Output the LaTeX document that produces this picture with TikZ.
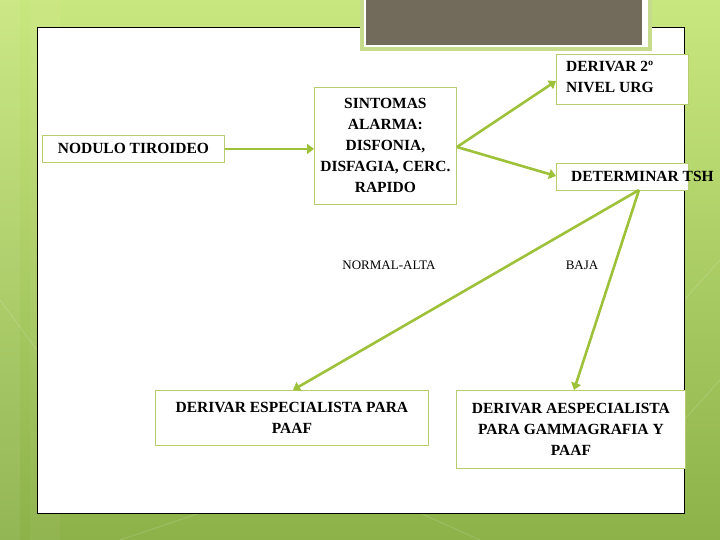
\documentclass[tikz,border=0pt]{standalone}
\usepackage{fontspec}
\setmainfont{Liberation Serif}
\usetikzlibrary{arrows.meta,positioning}
\definecolor{bgtop}{HTML}{C9E77F}
\definecolor{bgbot}{HTML}{8DB24A}
\definecolor{boxline}{HTML}{B7CC6E}
\definecolor{arr}{HTML}{9DC23A}
\definecolor{titlefill}{HTML}{726A5A}
\definecolor{titleedge}{HTML}{C6DC8C}
\tikzset{
  bigfont/.style={font=\bfseries\fontsize{15.5}{21}\selectfont},
  flowbox/.style={draw=boxline, line width=0.8pt, fill=white, bigfont, inner sep=0pt},
  flowarrow/.style={draw=arr, line width=2.6pt, -{Triangle[width=10pt,length=7pt]}},
  lbl/.style={font=\fontsize{13}{15}\selectfont, inner sep=0pt}
}
\begin{document}
\begin{tikzpicture}[x=1pt,y=-1pt]
\useasboundingbox (0,0) rectangle (720,540);
% background
\shade[top color=bgtop, bottom color=bgbot] (0,0) rectangle (720,540);
\fill[white, opacity=0.06] (0,0) rectangle (20,540);
\fill[white, opacity=0.04] (30,0) rectangle (60,540);
\draw[white, opacity=0.15, line width=0.8pt] (0,300) -- (37,350);
\draw[white, opacity=0.15, line width=0.8pt] (684,300) -- (720,260);
\draw[white, opacity=0.15, line width=0.8pt] (684,420) -- (720,380);
\draw[white, opacity=0.15, line width=0.8pt] (120,540) -- (200,513);
\draw[white, opacity=0.15, line width=0.8pt] (420,513) -- (480,540);
% white panel
\node[draw=black, line width=0.8pt, fill=white, inner sep=0pt, minimum width=647pt, minimum height=486pt, anchor=north west] (panel) at (37,27) {};
% title box
\node[draw=titleedge, line width=4pt, fill=white, inner sep=0pt, minimum width=288pt, minimum height=56pt, anchor=south west] (titleout) at (360,51) {};
\node[fill=titlefill, inner sep=0pt, minimum width=276pt, minimum height=46pt, anchor=south west] (titlein) at (366,45) {};
% nodes
\node[flowbox, minimum width=182pt, minimum height=27pt, anchor=north west] (nod) at (42,135) {NODULO TIROIDEO};
\node[flowbox, minimum width=142pt, minimum height=117pt, anchor=north west, align=center] (sint) at (314,87) {SINTOMAS\\ALARMA:\\DISFONIA,\\DISFAGIA, CERC.\\RAPIDO};
\node[flowbox, minimum width=132pt, minimum height=50pt, anchor=north west] (urg) at (556,54) {};
\node[bigfont, align=left, anchor=north west, inner sep=0pt] (urgt) at (566,61) {DERIVAR 2º\\NIVEL URG};
\node[flowbox, minimum width=132pt, minimum height=27pt, anchor=north west] (tsh) at (556,163) {};
\node[bigfont, anchor=west, inner sep=0pt] (tsht) at (571,176) {DETERMINAR TSH};
\node[flowbox, minimum width=273pt, minimum height=55pt, anchor=north west, align=center] (paaf) at (155,390) {DERIVAR ESPECIALISTA PARA\\PAAF};
\node[flowbox, minimum width=229pt, minimum height=78pt, anchor=north west, align=center] (gam) at (456,390) {DERIVAR AESPECIALISTA\\PARA GAMMAGRAFIA Y\\PAAF};
% labels
\node[lbl] (la) at (389,265) {NORMAL-ALTA};
\node[lbl] (lb) at (582,265) {BAJA};
% connectors
\coordinate (sr) at (457,147);
\coordinate (tb) at (639,190);
\draw[flowarrow] (nod.east) -- (nod.east -| sint.west);
\draw[flowarrow] (sr) -- (556,81);
\draw[flowarrow] (sr) -- (556,176);
\draw[flowarrow] (tb) -- (293,390);
\draw[flowarrow] (tb) -- (574,390);
\end{tikzpicture}
\end{document}
